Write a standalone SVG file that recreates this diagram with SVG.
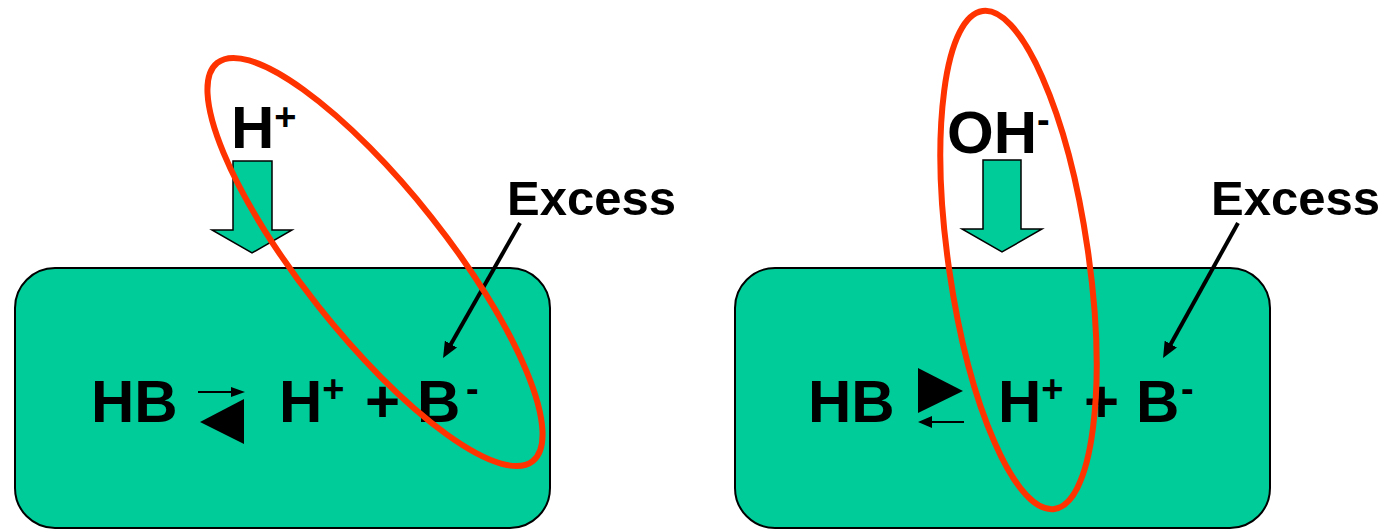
<svg xmlns="http://www.w3.org/2000/svg" width="1390" height="530" viewBox="0 0 1390 530">
  <style>
    .box { fill: #00CC99; stroke: #000; stroke-width: 2; }
    .txt { font-family: "Liberation Sans", Arial, sans-serif; font-weight: bold; fill: #000; }
    .big { font-size: 60px; }
    .lbl { font-size: 49px; }
    .sup { font-size: 38px; }
    .block { fill: #00CC99; stroke: #000; stroke-width: 1.5; stroke-linejoin: miter; }
    .ring { fill: none; stroke: #FF3300; stroke-width: 6; }
    .ptr { stroke: #000; stroke-width: 4; fill: none; marker-end: url(#head); }
    .thin { stroke: #000; stroke-width: 2; fill: none; }
  </style>
  <defs>
    <marker id="head" viewBox="0 0 16 14" refX="6" refY="7" markerWidth="16" markerHeight="14" markerUnits="userSpaceOnUse" orient="auto">
      <path d="M0,0 L16,7 L0,14 z" fill="#000"/>
    </marker>
  </defs>
  <rect width="1390" height="530" fill="#fff"/>

  <g id="box-left">
    <rect class="box" x="15" y="268" width="535" height="260" rx="40" ry="40"/>
    <text class="txt big" x="91" y="422">HB</text>
    <line class="thin" x1="198" y1="392" x2="236" y2="392"/>
    <polygon points="231,387 245,392 231,397" fill="#000"/>
    <polygon points="244,399 200,422 244,444" fill="#000"/>
    <text class="txt big" y="422"><tspan x="279">H</tspan><tspan class="sup" dy="-20">+</tspan><tspan x="365" dy="20">+</tspan><tspan x="417">B</tspan><tspan class="sup" x="466" dy="-20">-</tspan></text>
  </g>

  <g id="box-right">
    <rect class="box" x="735" y="268" width="535" height="260" rx="40" ry="40"/>
    <text class="txt big" x="808" y="422">HB</text>
    <polygon points="918,368 963,391 918,413" fill="#000"/>
    <line class="thin" x1="926" y1="422" x2="964" y2="422"/>
    <polygon points="932,416 918,422 932,428" fill="#000"/>
    <text class="txt big" y="422"><tspan x="998">H</tspan><tspan class="sup" dy="-20">+</tspan><tspan x="1084" dy="20">+</tspan><tspan x="1136">B</tspan><tspan class="sup" x="1181" dy="-20">-</tspan></text>
  </g>

  <g id="label-hplus">
    <text class="txt big" x="231" y="148">H<tspan class="sup" dy="-18">+</tspan></text>
  </g>
  <g id="label-ohminus">
    <text class="txt big" x="947" y="153">OH<tspan class="sup" dy="-20">-</tspan></text>
  </g>
  <g id="label-excess-left">
    <text class="txt lbl" x="507" y="215">Excess</text>
  </g>
  <g id="label-excess-right">
    <text class="txt lbl" x="1211" y="215">Excess</text>
  </g>

  <g id="connectors">
    <polygon class="block" points="233,161 272,161 272,230 292,230 252,253 212,230 233,230"/>
    <polygon class="block" points="983,160 1021,160 1021,229 1042,229 1002,252 962,229 983,229"/>
    <line class="ptr" x1="520" y1="223" x2="448" y2="349.3"/>
    <line class="ptr" x1="1238" y1="223" x2="1167.9" y2="349.3"/>
  </g>

  <g id="highlight-left">
    <ellipse class="ring" cx="375" cy="262" rx="254" ry="72" transform="rotate(51.6 375 262)"/>
  </g>
  <g id="highlight-right">
    <ellipse class="ring" cx="1018.5" cy="260" rx="70" ry="251.5" transform="rotate(-8.2 1018.5 260)"/>
  </g>
</svg>
